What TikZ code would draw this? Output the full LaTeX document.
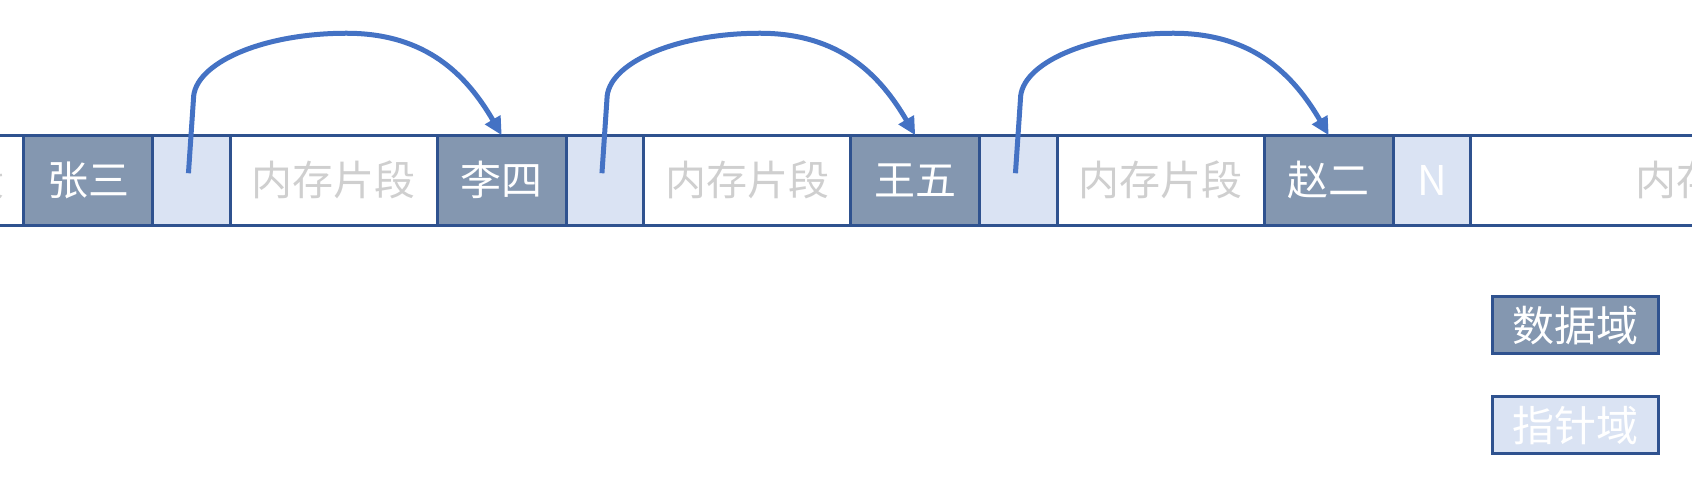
\documentclass[tikz,border=0pt]{standalone}
\usepackage{fontspec}
\setmainfont{Noto Sans CJK SC}
\usetikzlibrary{positioning}
\usetikzlibrary{arrows.meta}

\definecolor{cellline}{HTML}{2F528F}
\definecolor{datafill}{HTML}{8497B0}
\definecolor{ptrfill}{HTML}{DAE3F3}
\definecolor{linkblue}{HTML}{4472C4}
\definecolor{freegray}{HTML}{CFCFCF}

\tikzset{
  cell/.style={draw=cellline, line width=3pt, minimum height=90pt, inner sep=0pt, outer sep=0pt, font=\fontsize{41}{48}\selectfont},
  datacell/.style={cell, fill=datafill, text=white, minimum width=129pt},
  ptrcell/.style={cell, fill=ptrfill, text=white, minimum width=77.5pt},
  freecell/.style={cell, fill=white, text=freegray, minimum width=207pt},
  legendbox/.style={draw=cellline, line width=3pt, minimum width=166pt, minimum height=57pt, inner sep=0pt, font=\fontsize{42}{48}\selectfont, text=white},
  link/.style={draw=linkblue, line width=5pt, -{Triangle[length=18pt,width=17pt]}},
}

\begin{document}
\begin{tikzpicture}[x=1pt,y=1pt]

    \clip (0,0) rectangle (1692,492);

    % memory strip, left to right
    \node[freecell, minimum width=203pt, anchor=east] (free0) at (23.7,311.75) {内存片段};
    \node[datacell, right=0pt of free0] (zhang) {张三};
    \node[ptrcell, right=0pt of zhang] (p1) {};
    \node[freecell, right=0pt of p1] (free1) {内存片段};
    \node[datacell, right=0pt of free1] (li) {李四};
    \node[ptrcell, right=0pt of li] (p2) {};
    \node[freecell, right=0pt of p2] (free2) {内存片段};
    \node[datacell, right=0pt of free2] (wang) {王五};
    \node[ptrcell, right=0pt of wang] (p3) {};
    \node[freecell, right=0pt of p3] (free3) {内存片段};
    \node[datacell, right=0pt of free3] (zhao) {赵二};
    \node[ptrcell, right=0pt of zhao] (p4) {N};
    \node[freecell, minimum width=494pt, right=0pt of p4] (free4) {内存片段};

    % pointers to the next node
    \foreach \p/\d in {p1/li, p2/wang, p3/zhao}{
      \coordinate (s\p) at ([xshift=-3pt,yshift=7pt]\p.center);
      \draw[link] (s\p) -- ++(5,74) .. controls +(0,36) and +(-84,0) .. ++(153,66)
        .. controls +(80,0) and +(-35,60) .. (\d.north);
    }

    % legend
    \node[legendbox, fill=datafill] (legdata) at (1575,166.5) {数据域};
    \node[legendbox, fill=ptrfill] (legptr) at (1575,66.5) {指针域};

\end{tikzpicture}
\end{document}
